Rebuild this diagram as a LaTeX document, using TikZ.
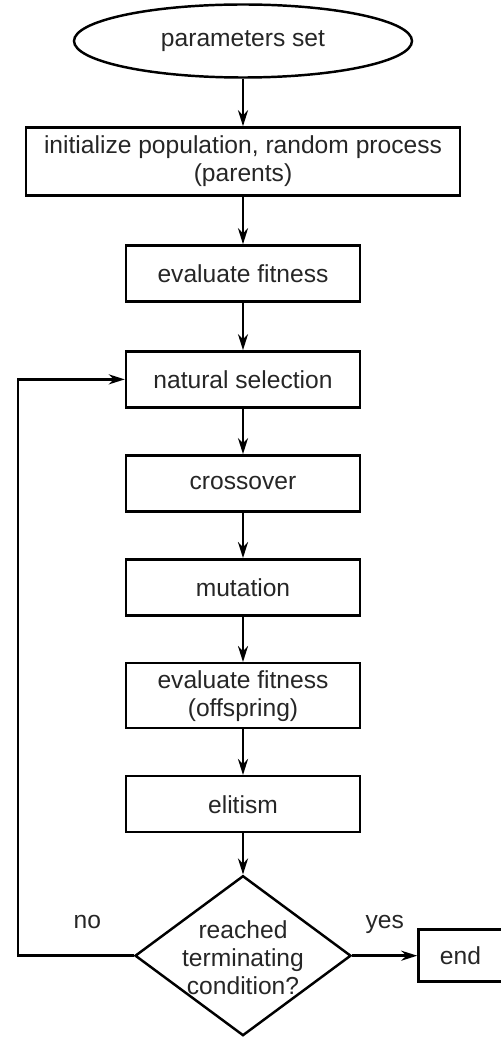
\documentclass[tikz,border=0pt]{standalone}
\usepackage{fontspec}
\setmainfont{Liberation Sans}
\usetikzlibrary{positioning,shapes.geometric,arrows.meta}

\begin{document}
\begin{tikzpicture}[
    node distance=0.91cm and 1.3cm,
    every node/.style={font=\fontsize{14}{16}\selectfont, text=black!85},
    block/.style={rectangle, draw, line width=1.4pt, align=center, minimum width=4.68cm, minimum height=1.12cm},
    start/.style={ellipse, draw, line width=1.4pt, minimum width=6.76cm, minimum height=1.46cm},
    decision/.style={diamond, draw, line width=1.4pt, inner sep=0pt, minimum width=4.32cm, minimum height=3.2cm},
    arrow/.style={-{Stealth[length=3.2mm,width=2mm]}, line width=1.4pt}
]
\useasboundingbox (-4.86,0.82) rectangle (5.16,-19.94);

% Define nodes top to bottom
\node (n0) [start] {parameters set};
\node (n1) [block, below=0.95cm of n0, minimum width=8.68cm, minimum height=1.36cm] {initialize population, random process\\(parents)};
\node (n2) [block, below=0.95cm of n1] {evaluate fitness};
\node (n3) [block, below=0.95cm of n2] {natural selection};
\node (n4) [block, below=of n3] {crossover};
\node (n5) [block, below=of n4] {mutation};
\node (n6) [block, below=of n5, minimum height=1.3cm] {evaluate fitness\\(offspring)};
\node (n7) [block, below=of n6] {elitism};
\node (n8) [decision, below=0.82cm of n7, label={[align=center, yshift=-0.04cm]center:reached\\terminating\\condition?}] {};
\node (n9) [block, right=of n8, minimum width=1.68cm, minimum height=1.04cm] {end};

% Connect nodes
\draw [arrow] (n0) -- (n1);
\draw [arrow] (n1) -- (n2);
\draw [arrow] (n2) -- (n3);
\draw [arrow] (n3) -- (n4);
\draw [arrow] (n4) -- (n5);
\draw [arrow] (n5) -- (n6);
\draw [arrow] (n6) -- (n7);
\draw [arrow] (n7) -- (n8);
\draw [arrow] (n8.east) -- node (yes) [above=0.3cm] {yes} (n9.west);
\draw [arrow] (n8.west) -- node (no) [above=0.39cm, pos=0.4] {no} ++(-2.32,0) |- (n3.west);
\end{tikzpicture}
\end{document}
